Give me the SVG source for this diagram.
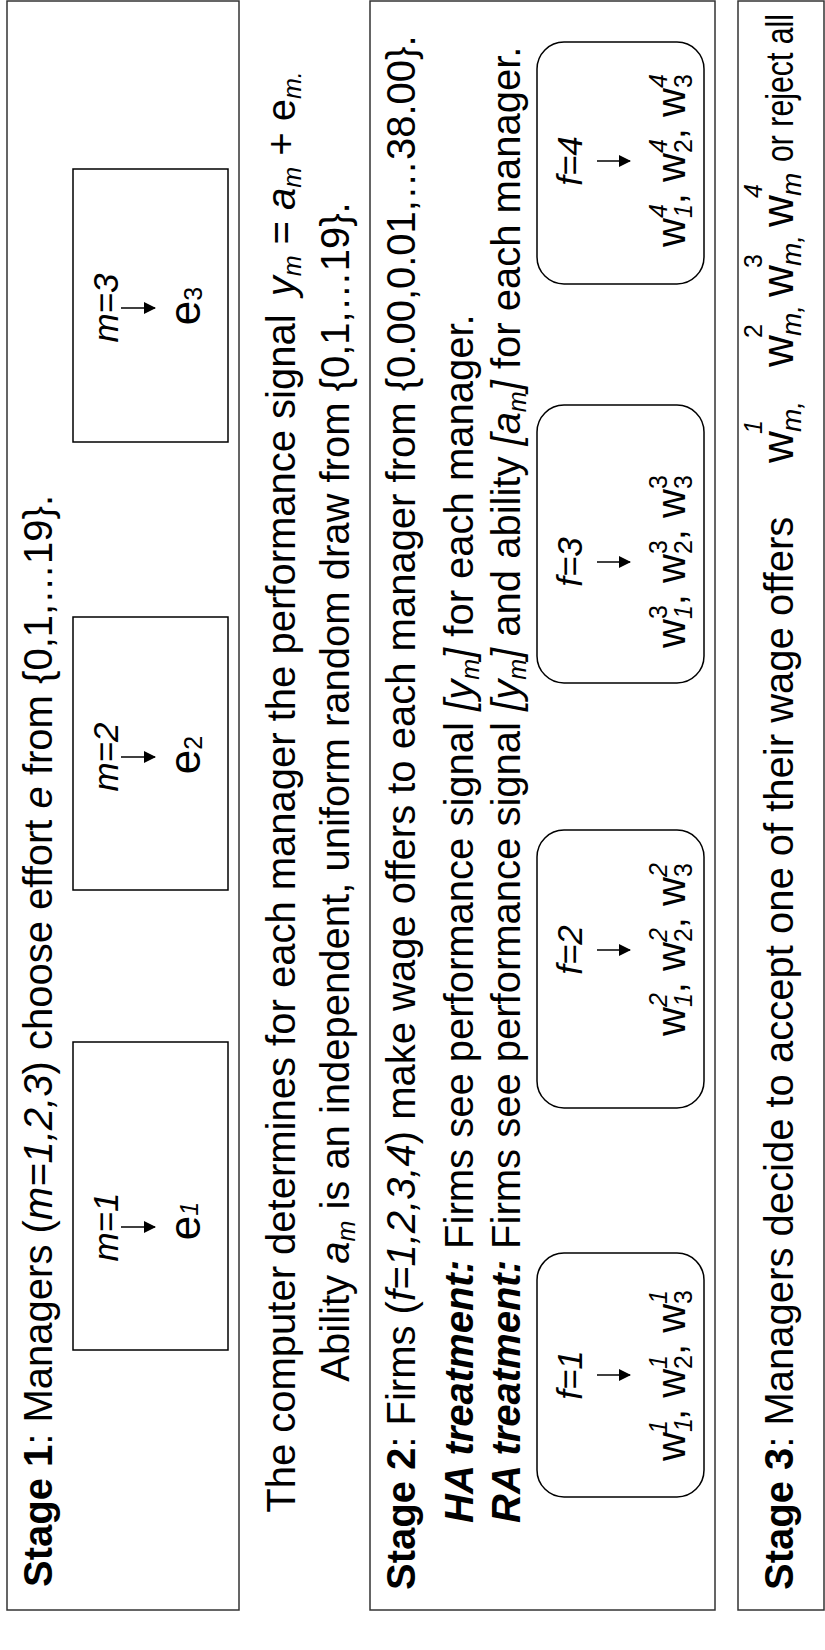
<svg xmlns="http://www.w3.org/2000/svg" width="825" height="1650" viewBox="0 0 825 1650">
<defs>
<style>
.t{font-family:"Liberation Sans",Arial,sans-serif;font-size:40px;fill:#000}
.b{font-weight:bold}
.i{font-style:italic}
.lbl{font-size:35px;font-style:italic}
.v{font-size:44px}
.s{font-size:25px}
.sm{font-size:28px}
.frame{fill:none;stroke:#333;stroke-width:1.5}
.box{fill:none;stroke:#000;stroke-width:1.5}
.arr{stroke:#000;stroke-width:1.5;fill:none;marker-end:url(#ah)}
</style>
<marker id="ah" markerUnits="userSpaceOnUse" markerWidth="12" markerHeight="12" refX="11" refY="6" orient="auto">
<path d="M0,0 L12,6 L0,12 z" fill="#000"/>
</marker>
</defs>
<rect width="825" height="1650" fill="#fff"/>
<g transform="translate(0,1650) rotate(-90)">
<g id="stage1">
<rect class="frame" x="40" y="7" width="1609" height="232"/>
<text class="t" x="63" y="52"><tspan class="b">Stage 1</tspan>: Managers (<tspan class="i">m=1,2,3</tspan>) choose effort <tspan class="i">e</tspan> from {0,1,…19}.</text>
</g>
<g id="m1">
<rect class="box" x="300" y="73" width="308" height="155"/>
<text class="t lbl" x="423" y="118" text-anchor="middle">m=1</text>
<text class="t v" x="429" y="200" text-anchor="middle">e<tspan class="s i" dy="-2">1</tspan></text>
</g>
<g id="m2">
<rect class="box" x="760" y="73" width="273" height="155"/>
<text class="t lbl" x="893" y="118" text-anchor="middle">m=2</text>
<text class="t v" x="895" y="200" text-anchor="middle">e<tspan class="s" dy="2">2</tspan></text>
</g>
<g id="m3">
<rect class="box" x="1208" y="73" width="273" height="155"/>
<text class="t lbl" x="1342" y="118" text-anchor="middle">m=3</text>
<text class="t v" x="1344" y="200" text-anchor="middle">e<tspan class="s" dy="2">3</tspan></text>
</g>
<g id="computer">
<text class="t" x="858" y="295" text-anchor="middle">The computer determines for each manager the performance signal<tspan class="i" dx="18">y</tspan><tspan class="s i" dy="6">m</tspan><tspan dy="-6"> = </tspan><tspan class="i">a</tspan><tspan class="s i" dy="6">m</tspan><tspan dy="-6"> + e</tspan><tspan class="s i" dy="6">m.</tspan></text>
<text class="t" x="858" y="349" text-anchor="middle">Ability <tspan class="i">a</tspan><tspan class="s i" dy="6">m</tspan><tspan dy="-6"> is an independent, uniform random draw from {0,1,…19}.</tspan></text>
</g>
<g id="stage2">
<rect class="frame" x="40" y="370" width="1609" height="345"/>
<text class="t" x="60" y="415"><tspan class="b">Stage 2</tspan>: Firms (<tspan class="i">f=1,2,3,4</tspan>) make wage offers to each manager from {0.00,0.01,…38.00}.</text>
<text class="t" x="127" y="473"><tspan class="b i">HA treatment:</tspan> Firms see performance signal <tspan class="i">[y</tspan><tspan class="s i" dy="6">m</tspan><tspan class="i" dy="-6">]</tspan> for each manager.</text>
<text class="t" x="127" y="520"><tspan class="b i">RA treatment:</tspan> Firms see performance signal <tspan class="i">[y</tspan><tspan class="s i" dy="6">m</tspan><tspan class="i" dy="-6">]</tspan> and ability <tspan class="i">[a</tspan><tspan class="s i" dy="6">m</tspan><tspan class="i" dy="-6">]</tspan> for each manager.</text>
</g>
<g id="f1">
<rect class="box" x="153" y="537" width="244" height="167" rx="27"/>
<text class="t lbl" x="275" y="582" text-anchor="middle">f=1</text>
<text class="t" x="189" y="685">w<tspan class="s i" dy="7">1</tspan><tspan class="s i" dx="-13.9" dy="-25">1</tspan><tspan dy="18">, w</tspan><tspan class="s" dy="7">2</tspan><tspan class="s i" dx="-13.9" dy="-25">1</tspan><tspan dy="18">, w</tspan><tspan class="s" dy="7">3</tspan><tspan class="s i" dx="-13.9" dy="-25">1</tspan></text>
</g>
<g id="f2">
<rect class="box" x="542" y="537" width="278" height="167" rx="27"/>
<text class="t lbl" x="700" y="582" text-anchor="middle">f=2</text>
<text class="t" x="614" y="685">w<tspan class="s i" dy="7">1</tspan><tspan class="s i" dx="-13.9" dy="-25">2</tspan><tspan dy="18">, w</tspan><tspan class="s" dy="7">2</tspan><tspan class="s i" dx="-13.9" dy="-25">2</tspan><tspan dy="18">, w</tspan><tspan class="s" dy="7">3</tspan><tspan class="s i" dx="-13.9" dy="-25">2</tspan></text>
</g>
<g id="f3">
<rect class="box" x="967" y="537" width="278" height="167" rx="27"/>
<text class="t lbl" x="1088" y="582" text-anchor="middle">f=3</text>
<text class="t" x="1002" y="685">w<tspan class="s i" dy="7">1</tspan><tspan class="s" dx="-13.9" dy="-25">3</tspan><tspan dy="18">, w</tspan><tspan class="s" dy="7">2</tspan><tspan class="s" dx="-13.9" dy="-25">3</tspan><tspan dy="18">, w</tspan><tspan class="s" dy="7">3</tspan><tspan class="s" dx="-13.9" dy="-25">3</tspan></text>
</g>
<g id="f4">
<rect class="box" x="1366" y="537" width="242" height="167" rx="27"/>
<text class="t lbl" x="1489" y="582" text-anchor="middle">f=4</text>
<text class="t" x="1403" y="685">w<tspan class="s i" dy="7">1</tspan><tspan class="s i" dx="-13.9" dy="-25">4</tspan><tspan dy="18">, w</tspan><tspan class="s" dy="7">2</tspan><tspan class="s i" dx="-13.9" dy="-25">4</tspan><tspan dy="18">, w</tspan><tspan class="s" dy="7">3</tspan><tspan class="s i" dx="-13.9" dy="-25">4</tspan></text>
</g>
<g id="stage3">
<rect class="frame" x="40" y="738" width="1609" height="86"/>
<text class="t" x="60" y="793"><tspan class="b">Stage 3</tspan>: Managers decide to accept one of their wage offers</text>
<text class="t v" x="1187" y="793">w</text><text class="t sm i" x="1218" y="801">m,</text><text class="t s i" x="1216" y="762">1</text>
<text class="t v" x="1283" y="793">w</text><text class="t sm i" x="1314" y="801">m,</text><text class="t s" x="1312" y="762">2</text>
<text class="t v" x="1353" y="793">w</text><text class="t sm i" x="1384" y="801">m,</text><text class="t s" x="1382" y="762">3</text>
<text class="t v" x="1423" y="793">w</text><text class="t sm i" x="1454" y="801">m</text><text class="t s i" x="1452" y="762">4</text>
<text class="t" x="1488" y="793" style="font-size:38px" textLength="148" lengthAdjust="spacingAndGlyphs">or reject all</text>
</g>
<g id="connectors">
<line class="arr" x1="423" y1="121" x2="423" y2="155"/>
<line class="arr" x1="893" y1="121" x2="893" y2="155"/>
<line class="arr" x1="1342" y1="121" x2="1342" y2="155"/>
<line class="arr" x1="275" y1="597" x2="275" y2="630"/>
<line class="arr" x1="700" y1="597" x2="700" y2="630"/>
<line class="arr" x1="1088" y1="597" x2="1088" y2="630"/>
<line class="arr" x1="1489" y1="597" x2="1489" y2="630"/>
</g>
</g>
</svg>
